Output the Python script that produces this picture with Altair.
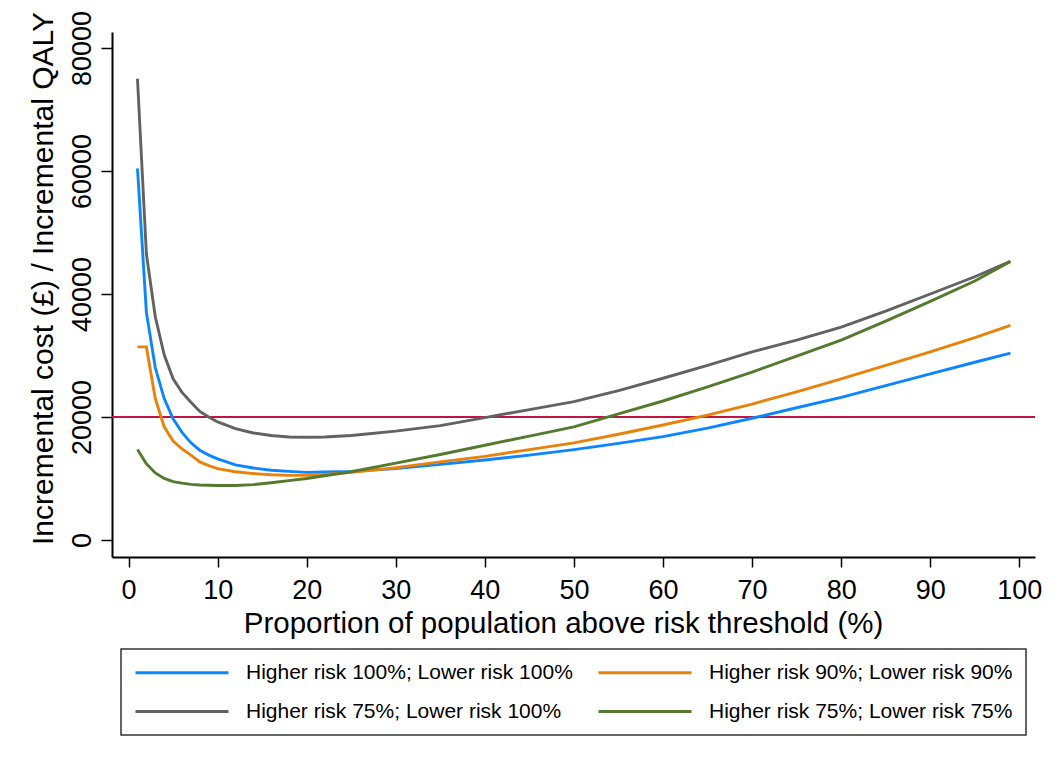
import altair as alt
import pandas as pd

# ---- data ----
x_vals = [1, 2, 3, 4, 5, 6, 7, 8, 9, 10, 12, 14, 16, 18, 20, 22, 25, 30, 35, 40,
          45, 50, 55, 60, 65, 70, 75, 80, 85, 90, 95, 99]

hr100_lr100 = [60400, 37000, 28000, 23000, 19700, 17500, 15800, 14600, 13800, 13200,
               12200, 11700, 11350, 11150, 11000, 11050, 11150, 11600, 12300, 13000,
               13800, 14700, 15700, 16800, 18200, 19800, 21500, 23200, 25100, 27000,
               28900, 30400]

hr90_lr90 = [31400, 31400, 23000, 18400, 16100, 14800, 13800, 12700, 12100, 11600,
             11100, 10800, 10600, 10500, 10500, 10650, 11000, 11750, 12700, 13600,
             14700, 15800, 17200, 18700, 20300, 22100, 24100, 26200, 28400, 30600,
             32900, 34900]

hr75_lr100 = [75000, 46500, 36300, 30100, 26200, 24000, 22400, 20900, 20000, 19200,
              18100, 17400, 17000, 16750, 16700, 16750, 17000, 17700, 18600, 19900,
              21200, 22500, 24300, 26300, 28400, 30600, 32500, 34600, 37200, 40000,
              42800, 45300]

hr75_lr75 = [14700, 12400, 10900, 10000, 9500, 9250, 9050, 8950, 8900, 8850,
             8850, 9000, 9300, 9650, 10000, 10450, 11100, 12500, 13900, 15400,
             16900, 18400, 20500, 22600, 24900, 27300, 29900, 32500, 35600, 38800,
             42100, 45300]

# legend order (column-major: left column first, then right column)
series_names = ["Higher risk 100%; Lower risk 100%",
                "Higher risk 75%; Lower risk 100%",
                "Higher risk 90%; Lower risk 90%",
                "Higher risk 75%; Lower risk 75%"]
series_values = [hr100_lr100, hr75_lr100, hr90_lr90, hr75_lr75]
series_colors = ["#0C86FF", "#626262", "#E8820A", "#557A2F"]

threshold = [20000]
x_ticks = [0, 10, 20, 30, 40, 50, 60, 70, 80, 90, 100]
y_ticks = [0, 20000, 40000, 60000, 80000]

x_title = "Proportion of population above risk threshold (%)"
y_title = "Incremental cost (£) / Incremental QALY"

# ---- tables ----
rows = []
for name, vals in zip(series_names, series_values):
    for xv, yv in zip(x_vals, vals):
        rows.append({"x": xv, "value": yv, "series": name})
df = pd.DataFrame(rows)
df_thr = pd.DataFrame({"value": threshold})

FONT = "Liberation Sans"

xscale = alt.Scale(domain=[-1.86, 101.76], nice=False, zero=False)
yscale = alt.Scale(domain=[-2766, 82600], nice=False, zero=False)

xaxis = alt.Axis(values=x_ticks, title=x_title, labelFontSize=27, labelPadding=10,
                 tickSize=10, labelAngle=0, labelFlush=False, titleFontSize=29.5,
                 titleX=451, titleY=75, titleAlign="center",
                 titleBaseline="alphabetic", grid=False)

yaxis = alt.Axis(values=y_ticks, title=y_title, format="d", labelAngle=270,
                 labelAlign="center", labelBaseline="alphabetic", labelFontSize=27,
                 labelPadding=11, tickSize=11, titleFontSize=30, titleAngle=270,
                 titleX=-60, titleY=246, titleAlign="center",
                 titleBaseline="alphabetic", grid=False)

# long horizontal stroke symbol (scaled by sqrt(size)/2 = 9 px -> ~93 px long)
legend = alt.Legend(orient="none", legendX=9, legendY=617, columns=2,
                    symbolType="M-1,0H9.33", symbolSize=324, symbolStrokeWidth=3,
                    labelFontSize=21, labelFont=FONT, labelColor="black",
                    labelOffset=91, columnPadding=19, rowPadding=17, padding=13,
                    labelLimit=500)

lines = alt.Chart(df).mark_line(strokeWidth=2.9).encode(
    x=alt.X("x:Q", scale=xscale, axis=xaxis),
    y=alt.Y("value:Q", scale=yscale, axis=yaxis),
    color=alt.Color("series:N", title=None,
                    scale=alt.Scale(domain=series_names, range=series_colors),
                    legend=legend),
)

rule = alt.Chart(df_thr).mark_rule(color="#C21345", strokeWidth=1.8).encode(
    y=alt.Y("value:Q", scale=yscale)
)

chart = alt.layer(rule, lines).properties(
    width=923,
    height=525,
    padding={"left": 104, "top": 24, "right": 12, "bottom": 200},
    autosize=alt.AutoSizeParams(type="none"),
).configure(
    font=FONT
).configure_view(
    stroke="transparent"
).configure_axis(
    domainColor="black", domainWidth=2, tickColor="black", tickWidth=1.5,
    labelColor="black", titleColor="black", titleFontWeight="normal",
    labelFont=FONT, titleFont=FONT
).configure_legend(
    strokeColor="#333333", strokeWidth=1.5
)

chart.save("out.html", embed_options={"renderer": "svg", "actions": False})
